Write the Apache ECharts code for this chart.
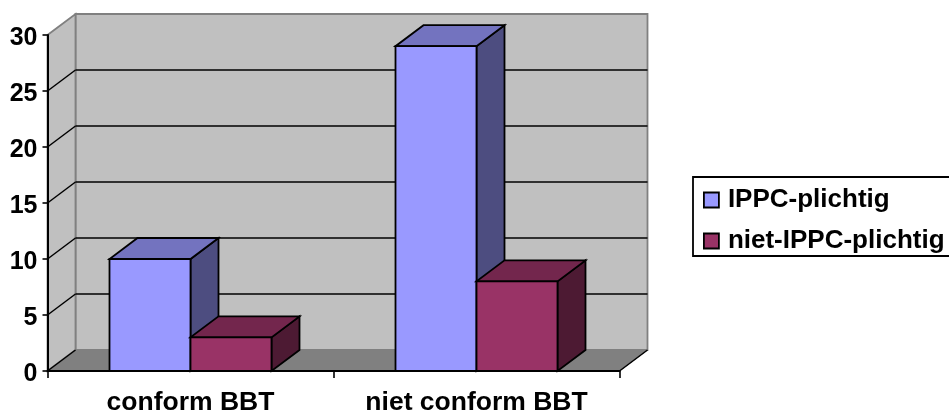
<!DOCTYPE html>
<html>
<head>
<meta charset="utf-8">
<style>html,body{margin:0;padding:0;background:#fff}#c{width:949px;height:413px}</style>
<script src="https://cdn.jsdelivr.net/npm/echarts@6/dist/echarts.min.js"></script>
</head>
<body>
<div id="c"></div>
<script>
const categories = ['conform BBT', 'niet conform BBT'];
const seriesNames = ['IPPC-plichtig', 'niet-IPPC-plichtig'];
const ippc = [10, 29];
const nietIppc = [3, 8];
const yTicks = [0, 5, 10, 15, 20, 25, 30];
const FONT = '"Liberation Sans", Arial, sans-serif';
const DX = 28, DY = -21, BAR = 0.2832;
const faces = [
  { front: '#9999FF', top: '#7373BF', side: '#4D4D80' },
  { front: '#993366', top: '#73264D', side: '#4D1A33' }
];
const chart = echarts.init(document.getElementById('c'), null, { renderer: 'canvas' });

function poly(points, fill, stroke, w) {
  return { type: 'polygon', shape: { points }, style: { fill, stroke, lineWidth: w, lineJoin: 'miter' } };
}
function line(x1, y1, x2, y2, stroke, w) {
  return { type: 'line', shape: { x1, y1, x2, y2 }, style: { stroke, lineWidth: w, fill: null } };
}
function renderWall(params, api) {
  const v = api.value(1);
  const band = api.size([1, 0])[0];
  const L = api.coord([0, v])[0] - band / 2;
  const R = api.coord([1, v])[0] + band / 2;
  const y = api.coord([0, v])[1];
  const y0 = api.coord([0, 0])[1];
  const yT = api.coord([0, 30])[1];
  const kids = [];
  if (v === 0) {
    const gray = '#808080', wall = '#C0C0C0';
    kids.push(poly([[L + DX, yT + DY], [R + DX, yT + DY], [R + DX, y0 + DY], [L + DX, y0 + DY]], wall, gray, 1.8));
    kids.push(poly([[L, yT], [L + DX, yT + DY], [L + DX, y0 + DY], [L, y0]], wall, gray, 1.8));
    kids.push(poly([[L, y0], [R, y0], [R + DX, y0 + DY], [L + DX, y0 + DY]], gray, gray, 1));
    kids.push(line(L, y0, L + DX, y0 + DY, '#000', 1.5));
    kids.push(line(R, y0, R + DX, y0 + DY, '#000', 1.5));
  } else if (v !== 30) {
    kids.push(line(L, y, L + DX, y + DY, '#000', 1.5));
    kids.push(line(L + DX, y + DY, R + DX, y + DY, '#000', 1.5));
  }
  return { type: 'group', children: kids };
}
function barRenderer(idx) {
  return function (params, api) {
    const c = api.coord([api.value(0), api.value(1)]);
    const b = api.coord([api.value(0), 0]);
    const w = api.size([1, 0])[0] * BAR;
    const l = c[0] + (idx === 0 ? -w : 0), r = l + w, t = c[1], bt = b[1];
    const f = faces[idx];
    return {
      type: 'group',
      children: [
        poly([[r, t], [r + DX, t + DY], [r + DX, bt + DY], [r, bt]], f.side, '#000', 1.8),
        poly([[l, t], [r, t], [r + DX, t + DY], [l + DX, t + DY]], f.top, '#000', 1.8),
        poly([[l, t], [r, t], [r, bt], [l, bt]], f.front, '#000', 1.8)
      ]
    };
  };
}
const option = {
  animation: false,
  backgroundColor: '#fff',
  grid: { left: 47.5, right: 329.5, top: 35, bottom: 42, containLabel: false, outerBoundsMode: 'none' },
  graphic: [{
    type: 'rect', z: -1, silent: true,
    shape: { x: 693, y: 177, width: 300, height: 79 },
    style: { fill: '#fff', stroke: '#000', lineWidth: 1.8 }
  }],
  xAxis: {
    type: 'category', data: categories,
    axisLine: { show: true, lineStyle: { color: '#000', width: 2 } },
    axisTick: { show: true, alignWithLabel: false, length: 7, lineStyle: { color: '#000', width: 1.6 } },
    axisLabel: { color: '#000', fontFamily: FONT, fontWeight: 'bold', fontSize: 26.5, margin: 18, interval: 0, hideOverlap: false },
    splitLine: { show: false }, z: 5
  },
  yAxis: {
    type: 'value', min: 0, max: 30, interval: 5,
    axisLine: { show: true, lineStyle: { color: '#000', width: 2 } },
    axisTick: { show: true, length: 5, lineStyle: { color: '#000', width: 1.6 } },
    axisLabel: {
      color: '#000', fontFamily: FONT, fontWeight: 'bold', fontSize: 25, margin: 10,
      formatter: v => '{a|' + v + '}',
      rich: { a: { color: '#000', fontFamily: FONT, fontWeight: 'bold', fontSize: 25, padding: [6, 0, 0, 0] } }
    },
    splitLine: { show: false }, z: 5
  },
  legend: {
    data: seriesNames, orient: 'vertical', left: 693, top: 177,
    padding: [10, 4, 3, 10], itemGap: 15, itemWidth: 15, itemHeight: 15,
    borderWidth: 0, backgroundColor: 'transparent',
    icon: 'rect', selectedMode: false,
    itemStyle: { borderColor: '#000', borderWidth: 1.8 },
    textStyle: { color: '#000', fontFamily: FONT, fontWeight: 'bold', fontSize: 26, padding: [0, 0, 0, 4] }
  },
  tooltip: { show: false },
  series: [
    { type: 'custom', name: 'walls', silent: true, clip: false, z: 1,
      data: yTicks.map(v => [0, v]), renderItem: renderWall, encode: { x: 0, y: 1 } },
    { type: 'custom', name: seriesNames[0], clip: false, z: 3,
      itemStyle: { color: faces[0].front },
      data: ippc.map((v, i) => [i, v]), renderItem: barRenderer(0), encode: { x: 0, y: 1 } },
    { type: 'custom', name: seriesNames[1], clip: false, z: 4,
      itemStyle: { color: faces[1].front },
      data: nietIppc.map((v, i) => [i, v]), renderItem: barRenderer(1), encode: { x: 0, y: 1 } }
  ]
};
chart.setOption(option);
</script>
</body>
</html>
